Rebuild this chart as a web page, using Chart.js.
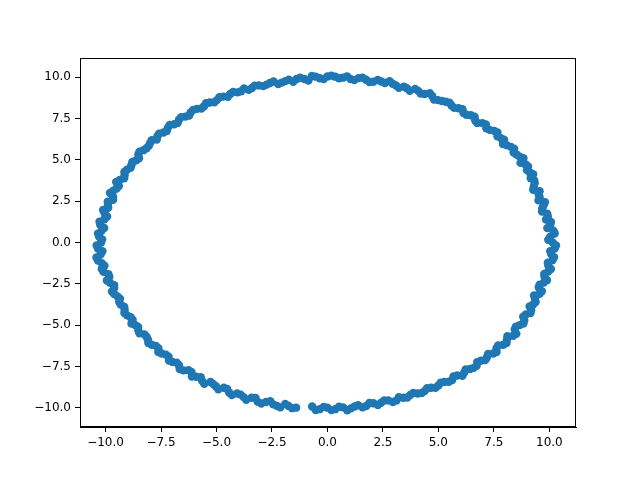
<!DOCTYPE html>
<html>
<head>
<meta charset="utf-8">
<script src="https://cdn.jsdelivr.net/npm/chart.js@4/dist/chart.umd.min.js"></script>
<style>
    html, body { margin: 0; padding: 0; background: #ffffff; }
    canvas { display: block; }
</style>
</head>
<body>
<canvas id="ringChart" width="640" height="480"></canvas>
<script>

/* ---------------- DATA ---------------- */

// first pass round the ring
const xValues = [
    10.15, 10.04, 10.18, 10.04, 9.85, 9.90, 9.68, 9.80, 9.56, 9.56,
    9.30, 9.32, 9.27, 8.99, 8.92, 8.83, 8.52, 8.41, 8.09, 7.96,
    7.66, 7.51, 7.16, 6.98, 6.66, 6.46, 6.13, 5.91, 5.59, 5.33,
    4.98, 4.72, 4.38, 4.09, 3.71, 3.44, 3.09, 2.80, 2.43, 2.07,
    1.74, 1.40, 1.04, 0.70, 0.35,
    0.00, -0.35, -0.70, -1.04, -1.39, -1.74, -2.06, -2.43, -2.74, -3.09,
    -3.40, -3.76, -4.05, -4.38, -4.69, -4.98, -5.30, -5.56, -5.88, -6.16,
    -6.40, -6.69, -6.91, -7.19, -7.39, -7.66, -7.92, -8.05, -8.29, -8.52,
    -8.62, -8.83, -9.03, -9.14, -9.36, -9.40, -9.65, -9.66, -9.90, -9.88,
    -10.04, -10.05, -10.24, -10.18, -10.29,
    -10.20, -10.34, -10.22, -10.34, -10.05, -10.09, -9.83, -9.80, -9.61, -9.61,
    -9.35, -9.32, -9.14, -9.03, -8.78, -8.66, -8.52, -8.25, -8.09, -7.92,
    -7.62, -7.47, -7.16, -6.98, -6.69, -6.49, -6.13, -5.91, -5.65, -5.27,
    -5.03, -4.67, -4.43, -4.07, -3.78, -3.42, -3.14, -2.77, -2.44, -2.12,
    -1.75, -1.41, -0.69, -0.35,
    0.00, 0.35, 0.70, 1.06, 1.38, 1.75, 2.07, 2.42, 2.74, 3.11,
    3.42, 3.73, 4.07, 4.38, 4.67, 5.00, 5.27, 5.62, 5.85, 6.16,
    6.43, 6.72, 6.91, 7.19, 7.47, 7.62, 7.92, 8.09, 8.37, 8.44,
    8.66, 8.87, 8.94, 9.18, 9.27, 9.35, 9.56, 9.52, 9.75, 9.78,
    9.95, 9.95, 10.14, 10.08, 10.24
];

const yValues = [
    0.00, 0.35, 0.71, 1.06, 1.39, 1.74, 2.06, 2.44, 2.74, 3.11,
    3.39, 3.76, 4.13, 4.38, 4.74, 5.10, 5.33, 5.68, 5.88, 6.22,
    6.43, 6.76, 6.91, 7.23, 7.39, 7.70, 7.84, 8.13, 8.29, 8.52,
    8.62, 8.87, 8.99, 9.18, 9.18, 9.44, 9.51, 9.76, 9.75, 9.73,
    9.85, 9.95, 9.90, 9.98, 10.04,
    10.05, 9.94, 10.08, 9.90, 9.90, 9.85, 9.68, 9.75, 9.56, 9.51,
    9.35, 9.32, 9.09, 8.99, 8.83, 8.62, 8.48, 8.25, 8.09, 7.88,
    7.62, 7.43, 7.16, 6.95, 6.66, 6.43, 6.19, 5.85, 5.59, 5.33,
    4.98, 4.69, 4.41, 4.07, 3.78, 3.42, 3.14, 2.77, 2.47, 2.10,
    1.77, 1.41, 1.08, 0.71, 0.36,
    0.00, -0.36, -0.72, -1.09, -1.41, -1.78, -2.09, -2.44, -2.76, -3.12,
    -3.40, -3.76, -4.07, -4.41, -4.67, -5.00, -5.33, -5.56, -5.88, -6.19,
    -6.40, -6.72, -6.91, -7.23, -7.43, -7.74, -7.84, -8.13, -8.37, -8.44,
    -8.70, -8.79, -9.08, -9.14, -9.36, -9.40, -9.65, -9.66, -9.80, -9.98,
    -9.90, -10.00, -9.93, -10.09,
    -10.00, -10.09, -9.98, -10.04, -9.85, -9.90, -9.73, -9.70, -9.56, -9.56,
    -9.40, -9.23, -9.14, -8.99, -8.79, -8.66, -8.44, -8.33, -8.05, -7.88,
    -7.66, -7.47, -7.16, -6.95, -6.72, -6.40, -6.19, -5.88, -5.65, -5.27,
    -5.00, -4.72, -4.36, -4.09, -3.75, -3.40, -3.11, -2.73, -2.43, -2.08,
    -1.75, -1.40, -1.07, -0.70, -0.36
];

// second pass, points lying between the first ones
const xValues2 = [
    9.95, 10.24, 9.91, 10.07, 9.93, 9.67, 9.74, 9.51, 9.52, 9.27,
    9.34, 9.16, 9.11, 9.04, 8.70, 8.66, 8.39, 8.27, 7.91, 7.81,
    7.66, 7.31, 7.14, 6.75, 6.63, 6.26, 6.08, 5.71, 5.50, 5.15,
    4.80, 4.61, 4.20, 3.95, 3.58, 3.22, 2.94, 2.59, 2.27, 1.89,
    1.58, 1.21, 0.88, 0.52, 0.18,
    -0.17, -0.53, -0.86, -1.23, -1.54, -1.90, -2.22, -2.59, -2.89, -3.27,
    -3.55, -3.89, -4.25, -4.49, -4.87, -5.10, -5.47, -5.68, -6.05, -6.23,
    -6.59, -6.75, -7.11, -7.24, -7.59, -7.69, -7.99, -8.15, -8.47, -8.49,
    -8.79, -8.87, -9.15, -9.16, -9.52, -9.50, -9.80, -9.66, -9.89, -10.11,
    -9.93, -10.27, -10.06, -10.34, -10.15,
    -10.40, -10.14, -10.41, -10.17, -10.17, -9.87, -9.94, -9.61, -9.71, -9.46,
    -9.38, -9.16, -9.15, -8.87, -8.83, -8.53, -8.47, -8.15, -8.07, -7.73,
    -7.62, -7.28, -7.14, -6.79, -6.66, -6.26, -6.11, -5.71, -5.55, -5.15,
    -4.92, -4.52, -4.31, -3.91, -3.66, -3.24, -2.98, -2.58, -2.28, -1.90,
    -1.59, -0.53, -0.17,
    0.18, 0.52, 0.89, 1.22, 1.58, 1.89, 2.27, 2.56, 2.95, 3.22,
    3.60, 3.87, 4.25, 4.49, 4.87, 5.10, 5.47, 5.68, 6.08, 6.23,
    6.59, 6.75, 7.11, 7.24, 7.62, 7.69, 8.07, 8.11, 8.51, 8.49,
    8.83, 8.82, 9.15, 9.11, 9.38, 9.31, 9.66, 9.56, 9.89, 9.77,
    10.07, 9.93, 10.21, 10.04, 10.30
];

const yValues2 = [
    0.17, 0.54, 0.87, 1.24, 1.57, 1.88, 2.25, 2.55, 2.91, 3.19,
    3.58, 3.89, 4.25, 4.61, 4.82, 5.20, 5.45, 5.79, 5.96, 6.32,
    6.66, 6.82, 7.14, 7.24, 7.62, 7.73, 8.07, 8.15, 8.47, 8.57,
    8.66, 9.04, 9.02, 9.30, 9.34, 9.36, 9.61, 9.66, 9.84, 9.72,
    9.98, 9.83, 10.06, 9.94, 10.10,
    9.90, 10.04, 9.81, 9.97, 9.73, 9.77, 9.60, 9.66, 9.47, 9.50,
    9.24, 9.16, 9.11, 8.82, 8.79, 8.49, 8.43, 8.11, 8.03, 7.69,
    7.59, 7.24, 7.11, 6.75, 6.59, 6.23, 6.02, 5.71, 5.50, 5.10,
    4.87, 4.52, 4.27, 3.89, 3.66, 3.27, 3.00, 2.59, 2.28, 1.97,
    1.57, 1.26, 0.88, 0.54, 0.18,
    -0.18, -0.53, -0.91, -1.25, -1.61, -1.92, -2.30, -2.58, -2.97, -3.26,
    -3.60, -3.89, -4.27, -4.52, -4.90, -5.12, -5.50, -5.71, -6.08, -6.26,
    -6.63, -6.79, -7.14, -7.28, -7.66, -7.73, -8.11, -8.15, -8.55, -8.57,
    -8.88, -8.87, -9.24, -9.21, -9.52, -9.41, -9.75, -9.61, -9.89, -9.77,
    -10.03, -10.14, -9.95,
    -10.15, -9.94, -10.16, -9.93, -9.98, -9.72, -9.84, -9.56, -9.66, -9.36,
    -9.38, -9.11, -9.11, -8.82, -8.79, -8.49, -8.43, -8.11, -8.07, -7.69,
    -7.59, -7.24, -7.11, -6.75, -6.63, -6.23, -6.08, -5.68, -5.53, -5.10,
    -4.90, -4.49, -4.27, -3.87, -3.60, -3.21, -2.95, -2.56, -2.28, -1.90,
    -1.60, -1.22, -0.89, -0.53, -0.18
];

const xTicks = [-10, -7.5, -5, -2.5, 0, 2.5, 5, 7.5, 10];
const yTicks = [-10, -7.5, -5, -2.5, 0, 2.5, 5, 7.5, 10];

/* ---------------- CHART ---------------- */

const points = xValues.map((x, i) => ({ x: x, y: yValues[i] }))
    .concat(xValues2.map((x, i) => ({ x: x, y: yValues2[i] })));

function fmtTick(v) {
    const s = Number(v).toFixed(1);
    return s.replace("-", "\u2212");
}

// matplotlib style closed box around the plot area
const frameBox = {
    id: "frameBox",
    afterDraw(chart) {
        const a = chart.chartArea;
        const ctx = chart.ctx;
        ctx.save();
        ctx.strokeStyle = "#000000";
        ctx.lineWidth = 1;
        ctx.strokeRect(a.left + 0.5, a.top + 0.5, a.right - a.left - 1, a.bottom - a.top - 1);
        ctx.restore();
    }
};

new Chart(document.getElementById("ringChart"), {
    type: "scatter",
    data: {
        datasets: [{
            data: points,
            backgroundColor: "#1f77b4",
            borderColor: "#1f77b4",
            pointRadius: 4.2,
            pointBorderWidth: 0,
            pointHoverRadius: 4.2
        }]
    },
    options: {
        responsive: false,
        animation: false,
        layout: {
            padding: { left: 10, right: 64, top: 58, bottom: 20 }
        },
        plugins: {
            legend: { display: false },
            tooltip: { enabled: false }
        },
        scales: {
            x: {
                type: "linear",
                min: -11.15,
                max: 11.2,
                afterBuildTicks: scale => {
                    scale.ticks = xTicks.map(v => ({ value: v }));
                },
                afterFit: scale => { scale.height = 33; },
                grid: {
                    drawOnChartArea: false,
                    drawTicks: true,
                    tickLength: 5,
                    color: "#000000"
                },
                border: { display: true, color: "#000000" },
                ticks: {
                    color: "#000000",
                    padding: 4,
                    maxRotation: 0,
                    autoSkip: false,
                    font: { family: "DejaVu Sans", size: 12 },
                    callback: v => fmtTick(v)
                }
            },
            y: {
                type: "linear",
                min: -11.17,
                max: 11.17,
                afterBuildTicks: scale => {
                    scale.ticks = yTicks.map(v => ({ value: v }));
                },
                afterFit: scale => { scale.width = 70; },
                grid: {
                    drawOnChartArea: false,
                    drawTicks: true,
                    tickLength: 5,
                    color: "#000000"
                },
                border: { display: true, color: "#000000" },
                ticks: {
                    color: "#000000",
                    padding: 4,
                    autoSkip: false,
                    font: { family: "DejaVu Sans", size: 12 },
                    callback: v => fmtTick(v)
                }
            }
        }
    },
    plugins: [frameBox]
});

</script>
</body>
</html>
